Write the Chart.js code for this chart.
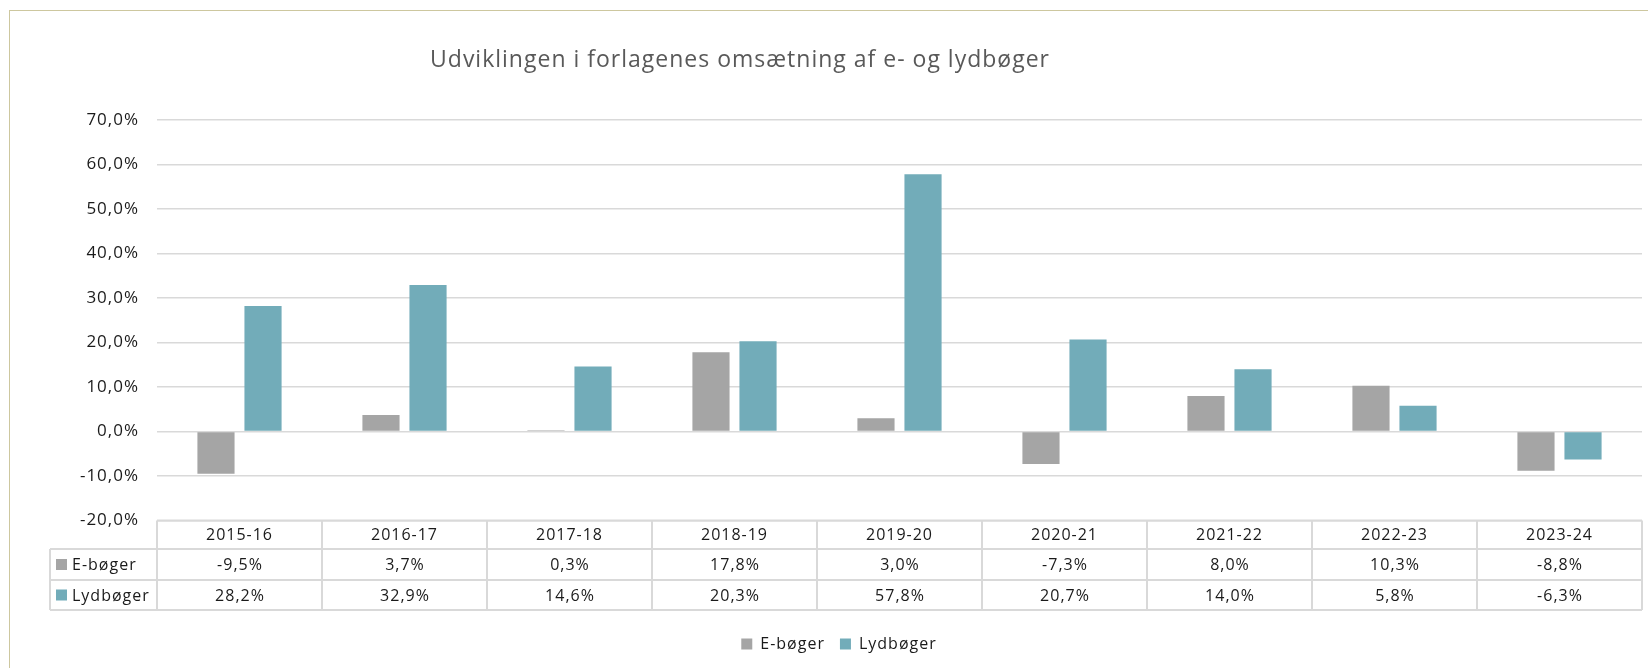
<!DOCTYPE html>
<html>
<head>
<meta charset="utf-8">
<script src="https://cdn.jsdelivr.net/npm/chart.js@4.4.0/dist/chart.umd.min.js"></script>
<style>
    html, body { margin: 0; padding: 0; background: #fff; overflow: hidden; }
    #frame { position: absolute; left: 9px; top: 10px; width: 1700px; height: 700px; border: 1.5px solid #cdc79f; }
    #wrap { position: absolute; left: 0; top: 0; width: 1648px; height: 668px; }
</style>
</head>
<body>
<div id="frame"></div>
<div id="wrap"><canvas id="chart" width="1648" height="668"></canvas></div>
<script>
// Data
const categories = ['2015-16', '2016-17', '2017-18', '2018-19', '2019-20', '2020-21', '2021-22', '2022-23', '2023-24'];
const eBoger = [-9.5, 3.7, 0.3, 17.8, 3.0, -7.3, 8.0, 10.3, -8.8];
const lydboger = [28.2, 32.9, 14.6, 20.3, 57.8, 20.7, 14.0, 5.8, -6.3];
const seriesNames = ['E-bøger', 'Lydbøger'];
const seriesColors = ['#a5a5a5', '#72acb9'];
const yMin = -20, yMax = 70, yStep = 10;

const FONT = "'Open Sans', sans-serif";
const SPACING = '1px';
const fmt = v => v.toFixed(1).replace('.', ',') + '%';

// Wider letter spacing, closer to the original's look
const spacingPlugin = {
    id: 'spacing',
    beforeUpdate(chart) { chart.ctx.letterSpacing = SPACING; },
    beforeLayout(chart) { chart.ctx.letterSpacing = SPACING; },
    beforeDraw(chart) { chart.ctx.letterSpacing = SPACING; }
};

// Draws the data table under the plot, aligned to the category scale
const dataTablePlugin = {
    id: 'dataTable',
    afterDraw(chart) {
        const ctx = chart.ctx;
        const area = chart.chartArea;
        const n = categories.length;
        const w = (area.right - area.left) / n;
        const top = area.bottom;
        const rowH = [28.5, 31, 30];
        const y1 = top + rowH[0], y2 = y1 + rowH[1], y3 = y2 + rowH[2];
        const legendLeft = 50;

        ctx.save();
        ctx.letterSpacing = SPACING;
        ctx.strokeStyle = '#d9d9d9';
        ctx.lineWidth = 2;
        ctx.beginPath();
        ctx.moveTo(area.left, top); ctx.lineTo(area.right, top);
        [y1, y2, y3].forEach(y => { ctx.moveTo(legendLeft, y); ctx.lineTo(area.right, y); });
        ctx.moveTo(legendLeft, y1); ctx.lineTo(legendLeft, y3);
        for (let i = 0; i <= n; i++) {
            const x = area.left + i * w;
            ctx.moveTo(x, top); ctx.lineTo(x, y3);
        }
        ctx.stroke();

        ctx.font = '16px ' + FONT;
        ctx.textBaseline = 'middle';
        const rows = [eBoger, lydboger];
        const ys = [(y1 + y2) / 2, (y2 + y3) / 2];
        rows.forEach((vals, r) => {
            ctx.textAlign = 'center';
            ctx.fillStyle = '#1a1a1a';
            vals.forEach((v, i) => {
                const x = chart.scales.x.getPixelForValue(i);
                ctx.fillText(fmt(v), x + 0.5, ys[r] + 1);
            });
            ctx.fillStyle = seriesColors[r];
            ctx.fillRect(legendLeft + 6, ys[r] - 5.5, 11, 11);
            ctx.fillStyle = '#1a1a1a';
            ctx.textAlign = 'left';
            ctx.fillText(seriesNames[r], legendLeft + 22, ys[r] + 1);
        });
        ctx.restore();
    }
};

// Shift the title left like in the original
const titlePosPlugin = {
    id: 'titlePos',
    afterLayout(chart) {
        if (chart.titleBlock) {
            chart.titleBlock.left = 0;
            chart.titleBlock.right = 1480;
        }
    }
};

new Chart(document.getElementById('chart'), {
    type: 'bar',
    data: {
        labels: categories,
        datasets: [
            { label: seriesNames[0], data: eBoger, backgroundColor: seriesColors[0] },
            { label: seriesNames[1], data: lydboger, backgroundColor: seriesColors[1] }
        ]
    },
    options: {
        responsive: false,
        animation: false,
        devicePixelRatio: 1,
        categoryPercentage: 0.57,
        barPercentage: 0.79,
        layout: { padding: { left: 36, right: 6, top: 10, bottom: 6 } },
        plugins: {
            title: {
                display: true,
                text: 'Udviklingen i forlagenes omsætning af e- og lydbøger',
                color: '#595959',
                font: { family: FONT, size: 23, weight: 'normal' },
                padding: { top: 37, bottom: 45.4 }
            },
            legend: {
                position: 'bottom',
                labels: {
                    color: '#1a1a1a',
                    font: { family: FONT, size: 16 },
                    boxWidth: 11,
                    boxHeight: 11,
                    padding: 15
                }
            },
            tooltip: { enabled: false }
        },
        scales: {
            x: {
                grid: { display: false, drawTicks: false },
                border: { display: false },
                ticks: { color: '#1a1a1a', font: { family: FONT, size: 16 }, padding: 5, maxRotation: 0 },
                afterFit(scale) { scale.height = 100.5; }
            },
            y: {
                min: yMin,
                max: yMax,
                grid: { color: '#d9d9d9', lineWidth: 1.5, drawTicks: false },
                border: { display: false },
                ticks: {
                    stepSize: yStep,
                    padding: 18,
                    color: '#1a1a1a',
                    font: { family: FONT, size: 17 },
                    callback: v => fmt(v)
                },
                afterFit(scale) { scale.width = 121; }
            }
        }
    },
    plugins: [spacingPlugin, dataTablePlugin, titlePosPlugin]
});
</script>
</body>
</html>
